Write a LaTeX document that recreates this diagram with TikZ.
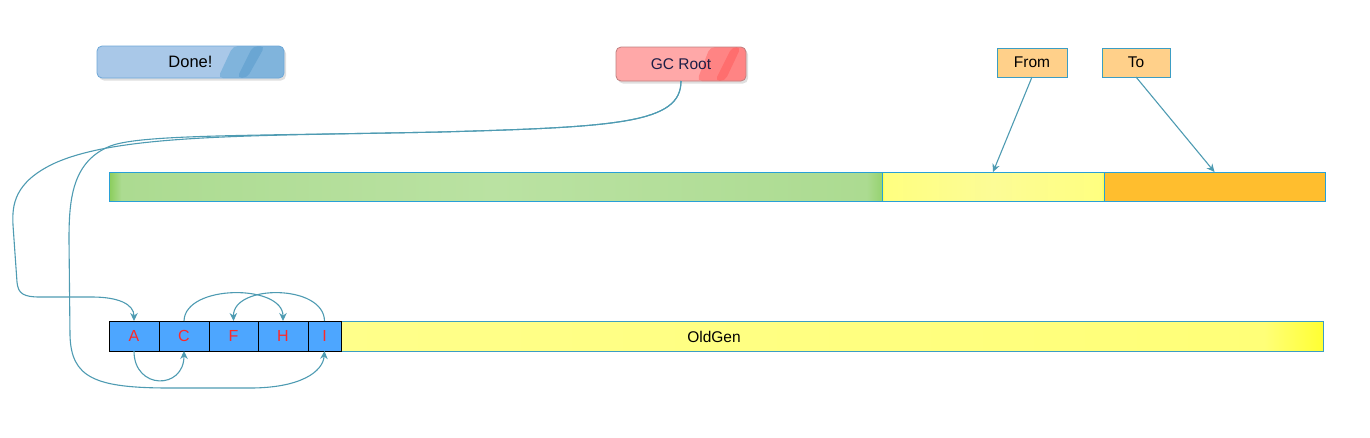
\documentclass[tikz,border=0pt]{standalone}
\usepackage{fontspec}
\setmainfont{Liberation Sans}
\usetikzlibrary{arrows.meta,shadows,calc}
\definecolor{conncol}{RGB}{78,155,178}
\definecolor{barborder}{RGB}{40,160,215}
\definecolor{gA}{RGB}{138,205,90}
\definecolor{gB}{RGB}{172,219,145}
\definecolor{gC}{RGB}{186,226,162}
\definecolor{gD}{RGB}{150,210,112}
\definecolor{yA}{RGB}{255,255,60}
\definecolor{yB}{RGB}{255,255,128}
\definecolor{yC}{RGB}{252,252,150}
\definecolor{oA}{RGB}{255,255,138}
\definecolor{oB}{RGB}{255,255,120}
\definecolor{oC}{RGB}{255,255,50}
\definecolor{orangebar}{RGB}{255,190,46}
\definecolor{cellblue}{RGB}{77,166,255}
\definecolor{doneA}{RGB}{169,200,232}
\definecolor{doneB}{RGB}{128,180,220}
\definecolor{doneC}{RGB}{106,166,211}
\definecolor{doneD}{RGB}{110,168,216}
\definecolor{gcA}{RGB}{255,168,168}
\definecolor{gcB}{RGB}{255,132,132}
\definecolor{gcC}{RGB}{255,110,110}
\definecolor{gcD}{RGB}{192,128,128}
\definecolor{fromfill}{RGB}{255,208,138}
\definecolor{fromedge}{RGB}{255,214,100}
\definecolor{boxborder}{RGB}{59,157,196}
\definecolor{celltext}{RGB}{255,40,40}
\pgfdeclarehorizontalshading{greenbar}{100bp}{color(0bp)=(gA); color(25bp)=(gA); color(25.8bp)=(gB); color(50bp)=(gC); color(74bp)=(gB); color(75bp)=(gD); color(100bp)=(gD)}
\pgfdeclarehorizontalshading{yellowbar}{100bp}{color(0bp)=(yA); color(25bp)=(yA); color(25.6bp)=(yB); color(50bp)=(yC); color(74.4bp)=(yB); color(75bp)=(yA); color(100bp)=(yA)}
\pgfdeclarehorizontalshading{oldbar}{100bp}{color(0bp)=(oA); color(25bp)=(oA); color(72bp)=(oB); color(75bp)=(oC); color(100bp)=(oC)}
\pgfdeclarehorizontalshading{fromshade}{100bp}{color(0bp)=(fromedge); color(25bp)=(fromedge); color(27bp)=(fromfill); color(100bp)=(fromfill)}
\begin{document}
\begin{tikzpicture}[x=1pt,y=-1pt,
  every node/.style={inner sep=0pt, outer sep=0pt},
  lbl/.style={font=\fontsize{15.5}{18}\selectfont},
  softshadow/.style={drop shadow={shadow xshift=2pt, shadow yshift=-2.5pt, opacity=0.25, fill=gray}},
  btnbox/.style={rounded corners=5pt, softshadow, lbl},
  tagbox/.style={draw=boxborder, line width=1pt, shading=fromshade, lbl, minimum height=29pt},
  barseg/.style={draw=barborder, line width=0.9pt, minimum height=29pt},
  cell/.style={draw=black, line width=1pt, fill=cellblue, minimum height=30pt, text=celltext, font=\fontsize{16}{18}\selectfont},
  conn/.style={draw=conncol, line width=1.1pt, -{Stealth[length=8pt,width=7.5pt]}}
]
\useasboundingbox (0,0) rectangle (1370,437);

% top buttons
\node[btnbox, fill=doneA, draw=doneD, line width=0.8pt, minimum width=187pt, minimum height=32pt,
  path picture={
    \fill[doneB] ($(path picture bounding box.north west)+(136,0)$) -- (path picture bounding box.north east)
      -- (path picture bounding box.south east) -- ($(path picture bounding box.south west)+(121,0)$) -- cycle;
    \fill[doneC] ($(path picture bounding box.north west)+(156,0)$) -- ($(path picture bounding box.north west)+(168,0)$)
      -- ($(path picture bounding box.south west)+(150,0)$) -- ($(path picture bounding box.south west)+(140,0)$) -- cycle;
  }] (done) at (190.5,62) {\fontsize{16.5}{18}\selectfont Done!};

\node[btnbox, fill=gcA, draw=gcD, line width=0.8pt, minimum width=130pt, minimum height=34pt, text={rgb,255:red,30;green,30;blue,70},
  path picture={
    \fill[gcB] ($(path picture bounding box.north west)+(94,0)$) -- (path picture bounding box.north east)
      -- (path picture bounding box.south east) -- ($(path picture bounding box.south west)+(81,0)$) -- cycle;
    \fill[gcC] ($(path picture bounding box.north west)+(116,0)$) -- ($(path picture bounding box.north west)+(125,0)$)
      -- ($(path picture bounding box.south west)+(109,0)$) -- ($(path picture bounding box.south west)+(99,0)$) -- cycle;
  }] (gc) at (681,64) {GC Root};

\node[tagbox, minimum width=70pt] (from) at (1032,62.5) {From};
\node[tagbox, minimum width=68pt] (to) at (1136,62.5) {To};

% top bar
\node[barseg, shading=greenbar, minimum width=773pt] (eden) at (495.5,186.5) {};
\node[barseg, shading=yellowbar, minimum width=222pt] (surv) at (993,186.5) {};
\node[barseg, fill=orangebar, minimum width=221pt] (surt) at (1214.5,186.5) {};

% old gen
\node[barseg, draw=boxborder, shading=oldbar, minimum width=982pt, minimum height=30pt] (old) at (832,336) {};
\node[lbl] (oldlbl) at (714,337) {OldGen};
\node[cell, minimum width=50pt] (A) at (134,336) {A};
\node[cell, minimum width=50pt] (C) at (184,336) {C};
\node[cell, minimum width=49pt] (F) at (233.5,336) {F};
\node[cell, minimum width=50pt] (H) at (283,336) {H};
\node[cell, minimum width=33pt] (I) at (324.5,336) {I};

% From / To arrows
\draw[conn] (from.south) -- (surv.north);
\draw[conn] (to.south) -- (surt.north);

% GC Root -> A
\draw[conn] (gc.south) .. controls +(0,42) and (620,127) .. (440,132)
  .. controls (250,136) and (120,134) .. (55,163)
  .. controls (14,182) and (12,205) .. (13,225)
  -- (17,282) .. controls (18,294) and (24,297) .. (40,297)
  -- (92,297) .. controls (118,297) and (134,304) .. (A.north);
% GC Root -> I
\draw[conn] (gc.south) .. controls +(0,42) and (620,127) .. (440,132)
  .. controls (250,136) and (135,134) .. (108,147)
  .. controls (72,163) and (69,200) .. (69,240)
  -- (70,335) .. controls (71,378) and (95,388) .. (170,388)
  -- (250,388) .. controls (300,388) and (323,372) .. (I.south);

% local references
\draw[conn] (A.south) .. controls (134,390) and (184,390) .. (C.south);
\draw[conn] (C.north) .. controls (185,284) and (283,284) .. (H.north);
\draw[conn] (I.north) .. controls (324,284) and (233,284) .. (F.north);
\end{tikzpicture}
\end{document}
